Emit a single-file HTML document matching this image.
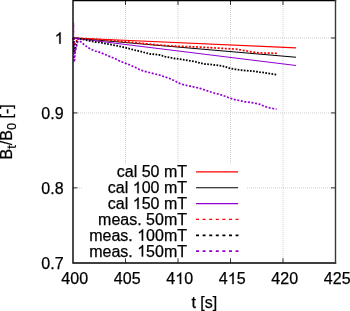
<!DOCTYPE html>
<html><head><meta charset="utf-8"><style>
html,body{margin:0;padding:0;background:#fff;}
svg{display:block;font-family:"Liberation Sans",sans-serif;font-size:16px;will-change:transform;}
text{stroke:#000;stroke-width:0.25px;}
.h{fill:none;stroke:none;}
</style></head><body>
<svg width="350" height="311" viewBox="0 0 350 311">
<rect width="350" height="311" fill="#fff"/>
<line x1="125.50" y1="0" x2="125.50" y2="262.80" stroke="#cfcfcf" stroke-width="1" stroke-dasharray="1,1"/>
<line x1="178.00" y1="0" x2="178.00" y2="262.80" stroke="#cfcfcf" stroke-width="1" stroke-dasharray="1,1"/>
<line x1="230.50" y1="0" x2="230.50" y2="262.80" stroke="#cfcfcf" stroke-width="1" stroke-dasharray="1,1"/>
<line x1="283.00" y1="0" x2="283.00" y2="262.80" stroke="#cfcfcf" stroke-width="1" stroke-dasharray="1,1"/>
<line x1="73" y1="187.87" x2="335.50" y2="187.87" stroke="#cfcfcf" stroke-width="1" stroke-dasharray="1,1"/>
<line x1="74" y1="112.93" x2="335.50" y2="112.93" stroke="#cfcfcf" stroke-width="1" stroke-dasharray="1,1"/>
<line x1="74" y1="38.00" x2="335.50" y2="38.00" stroke="#cfcfcf" stroke-width="1" stroke-dasharray="1,1"/>
<rect x="82" y="164.3" width="165" height="98.50" fill="#fff"/>
<line x1="125.50" y1="262.80" x2="125.50" y2="258.30" stroke="#333" stroke-width="1"/>
<line x1="125.50" y1="0.53" x2="125.50" y2="5.03" stroke="#333" stroke-width="1"/>
<line x1="178.00" y1="262.80" x2="178.00" y2="258.30" stroke="#333" stroke-width="1"/>
<line x1="178.00" y1="0.53" x2="178.00" y2="5.03" stroke="#333" stroke-width="1"/>
<line x1="230.50" y1="262.80" x2="230.50" y2="258.30" stroke="#333" stroke-width="1"/>
<line x1="230.50" y1="0.53" x2="230.50" y2="5.03" stroke="#333" stroke-width="1"/>
<line x1="283.00" y1="262.80" x2="283.00" y2="258.30" stroke="#333" stroke-width="1"/>
<line x1="283.00" y1="0.53" x2="283.00" y2="5.03" stroke="#333" stroke-width="1"/>
<line x1="73.00" y1="187.87" x2="77.50" y2="187.87" stroke="#333" stroke-width="1"/>
<line x1="335.50" y1="187.87" x2="331.00" y2="187.87" stroke="#333" stroke-width="1"/>
<line x1="73.00" y1="112.93" x2="77.50" y2="112.93" stroke="#333" stroke-width="1"/>
<line x1="335.50" y1="112.93" x2="331.00" y2="112.93" stroke="#333" stroke-width="1"/>
<line x1="73.00" y1="38.00" x2="77.50" y2="38.00" stroke="#333" stroke-width="1"/>
<line x1="335.50" y1="38.00" x2="331.00" y2="38.00" stroke="#333" stroke-width="1"/>
<polyline points="73.00,38.00 296.00,47.90" fill="none" stroke="#ff0000" stroke-width="1.15"/>
<polyline points="73.00,38.00 296.00,57.30" fill="none" stroke="#000000" stroke-width="1.15"/>
<polyline points="73.00,38.00 296.00,65.50" fill="none" stroke="#9400d3" stroke-width="1.15"/>
<polyline points="73.50,38.00 74.30,45.00 78.00,38.20 100.00,39.50 116.00,40.80 136.00,42.70 156.00,44.80 176.00,46.20 196.00,46.90 216.00,48.00 236.00,49.10 250.00,51.60 255.00,52.40 260.00,52.90 270.00,53.20 278.50,53.30" fill="none" stroke="#ff0000" stroke-width="1.7" stroke-dasharray="2,1.6" stroke-linejoin="round"/>
<polyline points="73.50,38.00 74.30,52.50 78.00,38.30 95.00,42.00 100.00,42.50 110.00,44.40 120.00,46.40 125.00,47.60 130.00,48.90 135.00,50.20 140.00,51.30 145.00,52.70 150.00,54.00 155.00,54.30 160.00,55.00 165.00,56.60 170.00,57.60 175.00,58.50 180.00,59.10 185.00,59.90 190.00,60.80 195.00,61.70 200.00,63.00 205.00,64.00 210.00,64.40 215.00,65.00 220.00,65.60 225.00,66.70 230.00,68.40 235.00,69.30 240.00,70.00 245.00,70.50 250.00,70.90 255.00,71.30 260.00,72.20 265.00,72.80 270.00,73.70 276.50,74.60" fill="none" stroke="#000000" stroke-width="1.8" stroke-dasharray="1.7,1.4" stroke-linejoin="round"/>
<polyline points="73.50,38.00 74.30,62.00 75.20,52.00 78.30,38.80 80.50,41.50 84.00,44.50 88.00,47.60 91.50,49.50 95.00,51.00 100.00,52.40 105.00,54.50 110.00,56.60 115.00,58.60 120.00,61.20 125.00,63.10 130.00,65.00 135.00,67.30 140.00,69.80 145.00,71.40 150.00,72.70 155.00,73.90 160.00,75.20 165.00,76.90 170.00,78.70 175.00,81.00 180.00,83.50 185.00,85.20 190.00,86.10 195.00,87.20 200.00,88.40 205.00,90.00 210.00,91.70 215.00,93.30 220.00,94.50 225.00,96.30 230.00,98.10 235.00,99.70 240.00,100.60 245.00,101.80 250.00,102.30 255.00,103.20 260.00,104.40 265.00,106.60 270.00,108.00 276.50,109.20" fill="none" stroke="#9400d3" stroke-width="1.7" stroke-dasharray="2,1.6" stroke-linejoin="round"/>
<line x1="73.9" y1="38" x2="73.9" y2="22.5" stroke="#9400d3" stroke-width="0.9" stroke-opacity="0.45"/>
<line x1="73.9" y1="25" x2="73.9" y2="26.5" stroke="#ff0000" stroke-width="0.9" stroke-opacity="0.5"/>
<line x1="73.9" y1="30.8" x2="73.9" y2="32.2" stroke="#ff0000" stroke-width="0.9" stroke-opacity="0.5"/>
<path d="M335.50,0.53H73.00V263.00H335.50" fill="none" stroke="#000" stroke-width="1.4" stroke-linecap="square"/>
<line x1="335.50" y1="0.53" x2="335.50" y2="263.00" stroke="#383838" stroke-width="1.4" stroke-linecap="square"/>
<text x="187.00" y="177.30" text-anchor="end">cal 50 mT</text>
<line x1="196" y1="171.90" x2="238.1" y2="171.90" stroke="#ff0000" stroke-width="1.1"/>
<text x="187.00" y="193.15" text-anchor="end">cal <tspan class="h">1</tspan>00 mT</text>
<line x1="196" y1="187.75" x2="238.1" y2="187.75" stroke="#000000" stroke-width="1.1"/>
<text x="187.00" y="209.00" text-anchor="end">cal <tspan class="h">1</tspan>50 mT</text>
<line x1="196" y1="203.60" x2="238.1" y2="203.60" stroke="#9400d3" stroke-width="1.1"/>
<text x="187.00" y="224.85" text-anchor="end">meas. 50mT</text>
<line x1="196" y1="219.45" x2="238.5" y2="219.45" stroke="#ff0000" stroke-width="1.3" stroke-dasharray="3,3.6"/>
<text x="187.00" y="240.70" text-anchor="end">meas. <tspan class="h">1</tspan>00mT</text>
<line x1="196" y1="235.30" x2="238.5" y2="235.30" stroke="#000000" stroke-width="1.8" stroke-dasharray="3,3.6"/>
<text x="187.00" y="256.55" text-anchor="end">meas. <tspan class="h">1</tspan>50mT</text>
<line x1="196" y1="251.15" x2="238.5" y2="251.15" stroke="#9400d3" stroke-width="1.8" stroke-dasharray="3,3.6"/>
<text x="63.60" y="43.70" text-anchor="end"><tspan class="h">1</tspan></text>
<text x="63.60" y="118.63" text-anchor="end">0.9</text>
<text x="63.60" y="193.57" text-anchor="end">0.8</text>
<text x="63.60" y="268.50" text-anchor="end">0.7</text>
<text x="74.70" y="284.10" text-anchor="middle">400</text>
<text x="127.20" y="284.10" text-anchor="middle">405</text>
<text x="179.70" y="284.10" text-anchor="middle">4<tspan class="h">1</tspan>0</text>
<text x="232.20" y="284.10" text-anchor="middle">4<tspan class="h">1</tspan>5</text>
<text x="284.70" y="284.10" text-anchor="middle">420</text>
<text x="337.20" y="284.10" text-anchor="middle">425</text>
<text x="204.30" y="308.00" text-anchor="middle">t [s]</text>
<text transform="translate(11.9,131.9) rotate(-90)" text-anchor="middle">B<tspan font-size="12.8" dy="4.5">t</tspan><tspan dy="-4.5">/B</tspan><tspan font-size="12.8" dy="4.5">0</tspan><tspan dy="-4.5"> [-]</tspan></text>
<path d="M763 0L583 0L583 1147Q518 1085 412 1023Q307 961 223 930L223 1104Q374 1175 487 1276Q600 1377 647 1472L763 1472Z" transform="matrix(0.007812,0,0,-0.007812,132.750,193.150)" stroke="#000" stroke-width="32.0"/>
<path d="M763 0L583 0L583 1147Q518 1085 412 1023Q307 961 223 930L223 1104Q374 1175 487 1276Q600 1377 647 1472L763 1472Z" transform="matrix(0.007812,0,0,-0.007812,132.750,209.000)" stroke="#000" stroke-width="32.0"/>
<path d="M763 0L583 0L583 1147Q518 1085 412 1023Q307 961 223 930L223 1104Q374 1175 487 1276Q600 1377 647 1472L763 1472Z" transform="matrix(0.007812,0,0,-0.007812,137.188,240.700)" stroke="#000" stroke-width="32.0"/>
<path d="M763 0L583 0L583 1147Q518 1085 412 1023Q307 961 223 930L223 1104Q374 1175 487 1276Q600 1377 647 1472L763 1472Z" transform="matrix(0.007812,0,0,-0.007812,137.188,256.550)" stroke="#000" stroke-width="32.0"/>
<path d="M763 0L583 0L583 1147Q518 1085 412 1023Q307 961 223 930L223 1104Q374 1175 487 1276Q600 1377 647 1472L763 1472Z" transform="matrix(0.007812,0,0,-0.007812,54.694,43.700)" stroke="#000" stroke-width="32.0"/>
<path d="M763 0L583 0L583 1147Q518 1085 412 1023Q307 961 223 930L223 1104Q374 1175 487 1276Q600 1377 647 1472L763 1472Z" transform="matrix(0.007812,0,0,-0.007812,175.247,284.100)" stroke="#000" stroke-width="32.0"/>
<path d="M763 0L583 0L583 1147Q518 1085 412 1023Q307 961 223 930L223 1104Q374 1175 487 1276Q600 1377 647 1472L763 1472Z" transform="matrix(0.007812,0,0,-0.007812,227.747,284.100)" stroke="#000" stroke-width="32.0"/>
</svg>
</body></html>
